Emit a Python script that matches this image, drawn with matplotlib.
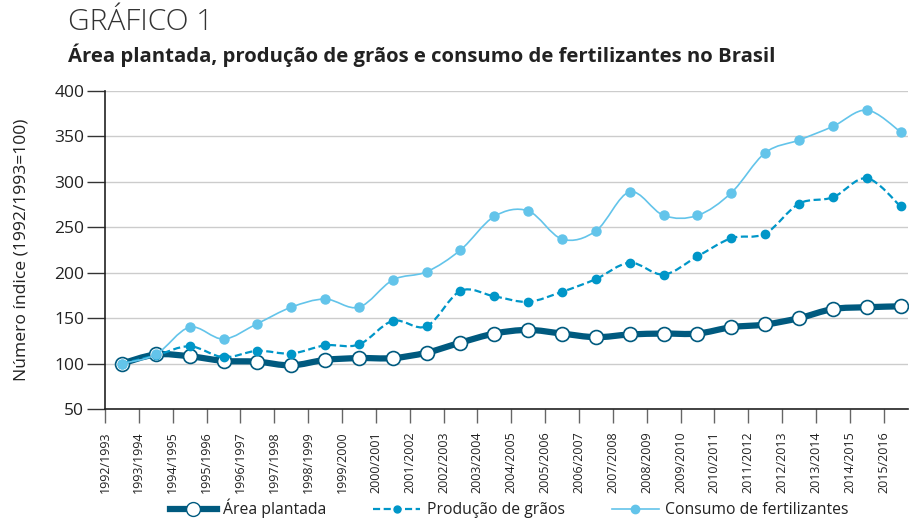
import numpy as np
import matplotlib
matplotlib.use("Agg")
import matplotlib.pyplot as plt
from matplotlib.path import Path
from matplotlib.patches import PathPatch
from matplotlib.lines import Line2D

plt.rcParams['font.family'] = ['Open Sans', 'DejaVu Sans']

# safras (tick labels)
safras = ['1992/1993', '1993/1994', '1994/1995', '1995/1996', '1996/1997', '1997/1998',
          '1998/1999', '1999/2000', '2000/2001', '2001/2002', '2002/2003', '2003/2004',
          '2004/2005', '2005/2006', '2006/2007', '2007/2008', '2008/2009', '2009/2010',
          '2010/2011', '2011/2012', '2012/2013', '2013/2014', '2014/2015', '2015/2016']

# índice (1992/1993 = 100)
area_plantada = [100, 110, 108, 103, 102, 98, 104, 106, 106, 112, 123, 133,
                 137, 133, 129, 132, 133, 133, 140, 143, 150, 160, 162, 163]
producao_graos = [100, 109, 119, 107, 114, 111, 120, 121, 147, 141, 180, 174,
                  168, 179, 193, 211, 198, 218, 238, 243, 276, 283, 304, 273]
consumo_fert = [100, 110, 140, 127, 144, 162, 171, 162, 192, 201, 225, 262,
                268, 237, 246, 289, 263, 263, 288, 332, 346, 361, 379, 355]

DARK = '#005a7f'
MID = '#0096c8'
LIGHT = '#63c4ea'


def smooth_path(x, y):
    # catmull-rom -> cubic bezier, drawn in data coordinates
    x = np.asarray(x, float)
    y = np.asarray(y, float)
    pts = np.column_stack([x, y])
    verts = [pts[0]]
    codes = [Path.MOVETO]
    n = len(pts)
    for i in range(n - 1):
        p0 = pts[i - 1] if i > 0 else pts[i]
        p1 = pts[i]
        p2 = pts[i + 1]
        p3 = pts[i + 2] if i + 2 < n else pts[i + 1]
        c1 = p1 + (p2 - p0) / 6.0
        c2 = p2 - (p3 - p1) / 6.0
        verts += [c1, c2, p2]
        codes += [Path.CURVE4] * 3
    return Path(verts, codes)


fig = plt.figure(figsize=(9.14, 5.2), dpi=100)
ax = fig.add_axes([0.1149, 0.2135, 0.8786, 0.6115])

xpos = np.arange(len(safras)) + 0.5

# área plantada
ax.add_patch(PathPatch(smooth_path(xpos, area_plantada), facecolor='none',
                       edgecolor=DARK, lw=4.5, capstyle='round', joinstyle='round', zorder=3))
ax.plot(xpos, area_plantada, ls='none', marker='o', ms=10, mfc='white',
        mec=DARK, mew=1.2, zorder=4)

# produção de grãos
ax.add_patch(PathPatch(smooth_path(xpos, producao_graos), facecolor='none',
                       edgecolor=MID, lw=1.6, ls=(0, (3.2, 1.6)), zorder=5))
ax.plot(xpos, producao_graos, ls='none', marker='o', ms=6, mfc=MID, mec=MID, zorder=6)

# consumo de fertilizantes
ax.add_patch(PathPatch(smooth_path(xpos, consumo_fert), facecolor='none',
                       edgecolor=LIGHT, lw=1.2, zorder=7))
ax.plot(xpos, consumo_fert, ls='none', marker='o', ms=6.5, mfc=LIGHT, mec=LIGHT, zorder=8)

ax.set_xlim(0, 23.72)
ax.set_ylim(50, 400)
ax.set_yticks(range(50, 401, 50))
ax.set_xticks(np.arange(len(safras)))
ax.set_xticklabels(safras, rotation=90, fontsize=9.0, color='#222222')
ax.tick_params(axis='y', length=13, width=1, color='#333333', labelsize=12.5,
               pad=2, labelcolor='#222222')
ax.tick_params(axis='x', length=10, width=1, color='#666666', pad=6)
ax.grid(axis='y', color='#cccccc', lw=1)
ax.set_axisbelow(True)
for s in ['top', 'right']:
    ax.spines[s].set_visible(False)
ax.spines['left'].set_color('#222222')
ax.spines['bottom'].set_color('#222222')
ax.spines['left'].set_linewidth(1.2)
ax.spines['bottom'].set_linewidth(1.2)

ax.set_ylabel('Número índice (1992/1993=100)', fontsize=12.6, color='#222222')
ax.yaxis.set_label_coords(-0.094, 0.5)

fig.text(0.074, 0.958, 'GRÁFICO 1', fontsize=21.5, fontweight='light',
         color='#333333', va='center', ha='left')
fig.text(0.074, 0.893, 'Área plantada, produção de grãos e consumo de fertilizantes no Brasil',
         fontsize=14.6, fontweight='bold', color='#222222', va='center', ha='left')

handles = [
    Line2D([], [], color=DARK, lw=4.5, marker='o', ms=10, mfc='white', mec=DARK),
    Line2D([], [], color=MID, lw=1.6, ls=(0, (3.2, 1.6)), marker='o', ms=5, mfc=MID, mec=MID),
    Line2D([], [], color=LIGHT, lw=1.2, marker='o', ms=6, mfc=LIGHT, mec=LIGHT),
]
labels = ['Área plantada', 'Produção de grãos', 'Consumo de fertilizantes']
fig.legend(handles, labels, loc='center', bbox_to_anchor=(0.557, 0.022), ncol=3,
           frameon=False, fontsize=11.3, handlelength=3.0, handletextpad=0.4,
           columnspacing=3.0, labelcolor='#222222')

fig.savefig('out.png', dpi=100)
